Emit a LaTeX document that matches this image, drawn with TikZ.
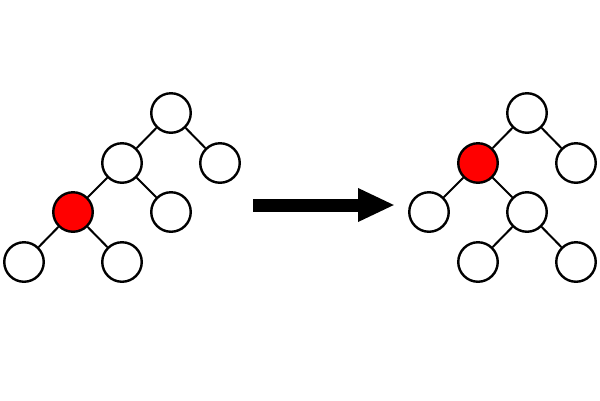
\documentclass[tikz,border=0pt]{standalone}
\usetikzlibrary{arrows.meta}

\begin{document}
\begin{tikzpicture}[
  x=1pt,y=-1pt,
  vert/.style={circle,draw=black,line width=2.4pt,fill=white,
               inner sep=0pt,minimum size=39.5pt},
  hot/.style={vert,fill=red},
  edge/.style={line width=2pt,draw=black},
  bigar/.style={-{Triangle[length=37pt,width=31pt]},line width=13pt,draw=black}
]
\useasboundingbox (0,0) rectangle (600,400);

%%%%%%%%%%%%%%%%%%%%%% left tree (before) %%%%%%%%%%%%%%%%%%%%%%%%%%%%%%%%%
\node[vert] (la)  at (171,113) {};
\node[vert] (lb)  at (122,163) {};
\node[vert] (lc)  at (220,163) {};
\node[hot]  (ld)  at ( 73,212) {};
\node[vert] (le)  at (171,212) {};
\node[vert] (lf)  at ( 24,262) {};
\node[vert] (lg)  at (122,262) {};

\draw[edge] (la) -- (lb);
\draw[edge] (la) -- (lc);
\draw[edge] (lb) -- (ld);
\draw[edge] (lb) -- (le);
\draw[edge] (ld) -- (lf);
\draw[edge] (ld) -- (lg);

%%%%%%%%%%%%%%%%%%%%%% arrow %%%%%%%%%%%%%%%%%%%%%%%%%%%%%%%%%%%%%%%%%%%%%%
\coordinate (arfrom) at (253,205);
\coordinate (arto)   at (395,205);
\draw[bigar] (arfrom) -- (arto);

%%%%%%%%%%%%%%%%%%%%%% right tree (after) %%%%%%%%%%%%%%%%%%%%%%%%%%%%%%%%%
\node[vert] (ra)  at (527,113) {};
\node[hot]  (rb)  at (478,163) {};
\node[vert] (rc)  at (576,163) {};
\node[vert] (rd)  at (429,212) {};
\node[vert] (re)  at (527,212) {};
\node[vert] (rf)  at (478,262) {};
\node[vert] (rg)  at (576,262) {};

\draw[edge] (ra) -- (rb);
\draw[edge] (ra) -- (rc);
\draw[edge] (rb) -- (rd);
\draw[edge] (rb) -- (re);
\draw[edge] (re) -- (rf);
\draw[edge] (re) -- (rg);
\end{tikzpicture}
\end{document}
